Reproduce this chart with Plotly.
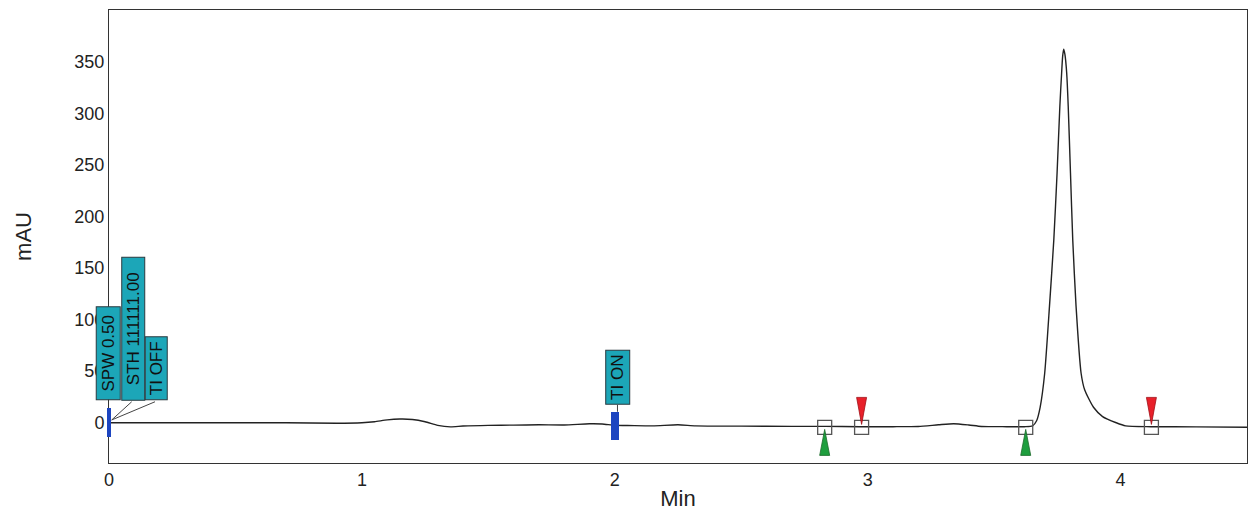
import plotly.graph_objects as go

# ---- Chromatogram signal (min, mAU) ----
time_min = [0.00, 0.10, 0.30, 0.50, 0.70, 0.90, 1.00, 1.05, 1.10, 1.15, 1.20, 1.25, 1.30, 1.35,
            1.40, 1.50, 1.60, 1.70, 1.80, 1.90, 1.95, 2.00, 2.05, 2.15, 2.25, 2.32, 2.50, 2.70,
            2.83, 2.97, 3.10, 3.20, 3.28, 3.34, 3.40, 3.45, 3.55, 3.62, 3.652, 3.668, 3.682,
            3.700, 3.719, 3.736, 3.749, 3.760, 3.767, 3.771, 3.775, 3.780, 3.787, 3.793, 3.802,
            3.811, 3.824, 3.844, 3.858, 3.893, 3.929, 3.983, 4.02, 4.12, 4.30, 4.50]
signal_mau = [0.0, 0.0, 0.0, 0.0, 0.0, -0.5, 0.0, 1.0, 2.8, 3.6, 3.2, 1.0, -2.5, -4.0,
              -3.2, -2.5, -2.3, -2.0, -2.2, -1.0, -1.2, -2.5, -2.6, -3.0, -2.0, -3.0, -3.3, -3.5,
              -3.5, -3.8, -3.8, -3.6, -2.0, -1.0, -2.2, -3.6, -3.8, -3.8, -3.0, 2.0, 15.0,
              48.0, 113.0, 177.0, 242.0, 307.0, 339.0, 355.0, 362.0, 357.0, 339.0, 307.0, 242.0,
              177.0, 113.0, 48.0, 32.0, 15.0, 6.0, 0.0, -3.0, -3.8, -4.0, -4.3]

# ---- Timed events ----
event_times = [0.0, 2.0]
event_levels = [0.5, -3.0]
event_labels = ["SPW 0.50", "STH 111111.00", "TI OFF", "TI ON"]
event_label_times = [0.0, 0.0, 0.0, 2.0]

# ---- Peak integration marks ----
peak_start_times = [2.83, 3.625]
peak_end_times = [2.976, 4.122]
mark_level = -4.5

x_ticks = [0, 1, 2, 3, 4]
y_ticks = [0, 50, 100, 150, 200, 250, 300, 350]

FONT = "Liberation Sans, Arial, sans-serif"
TEAL = "#1ca6b8"
BLUE = "#1d45c0"

fig = go.Figure()

fig.add_trace(go.Scatter(x=time_min, y=signal_mau, mode="lines",
                         line=dict(color="#222222", width=1.4, shape="spline", smoothing=0.6),
                         hoverinfo="skip", showlegend=False))

# integration squares
fig.add_trace(go.Scatter(x=peak_start_times + peak_end_times,
                         y=[mark_level] * (len(peak_start_times) + len(peak_end_times)),
                         mode="markers", cliponaxis=False,
                         marker=dict(symbol="square-open", size=14, color="#555555",
                                     line=dict(width=1.3, color="#555555")),
                         hoverinfo="skip", showlegend=False))

shapes = []
for t in peak_start_times:
    shapes.append(dict(type="path", xref="x", yref="y", xsizemode="pixel", ysizemode="pixel",
                       xanchor=t, yanchor=mark_level, path="M0,-2 L-5,-28 L5,-28 Z",
                       fillcolor="#1e9e3e", line=dict(color="#1a6a2a", width=0.8), layer="above"))
for t in peak_end_times:
    shapes.append(dict(type="path", xref="x", yref="y", xsizemode="pixel", ysizemode="pixel",
                       xanchor=t, yanchor=mark_level, path="M0,3 L-5,30 L5,30 Z",
                       fillcolor="#e8202a", line=dict(color="#a01018", width=0.8), layer="above"))

annotations = []
# event bars (width, height in px)
bar_style = [(4, 29), (8, 28)]
for t, lv, (bw, bh) in zip(event_times, event_levels, bar_style):
    annotations.append(dict(x=t, y=lv, xref="x", yref="y", text=" ", showarrow=False,
                            xanchor="center", yanchor="middle", width=bw, height=bh,
                            bgcolor=BLUE, bordercolor=BLUE, borderwidth=0, borderpad=0,
                            font=dict(size=8)))

# label box style: (xshift, yshift, box length, box thickness)
box_style = [(-0.5, 22, 92, 23), (24, 22, 142, 22), (47.5, 22, 62, 21), (2.7, 18, 53, 23)]
leaders = [((-0.5, 21), (-0.5, 14)), ((22.7, 21), (2.7, 2.8)), ((46, 21), (2.7, 2.8)),
           ((2.7, 18), (2.7, 11))]

for lab, t, (xs, ys, ln, th), ((lx0, ly0), (lx1, ly1)) in zip(
        event_labels, event_label_times, box_style, leaders):
    annotations.append(dict(x=t, y=0, xref="x", yref="y", text=lab, showarrow=False,
                            textangle=-90, xanchor="center", yanchor="bottom",
                            xshift=xs, yshift=ys, width=ln, height=th,
                            align="center", valign="middle",
                            bgcolor=TEAL, bordercolor="#2b3a40", borderwidth=1, borderpad=0,
                            font=dict(family=FONT, size=17, color="#111111")))
    shapes.append(dict(type="line", xref="x", yref="y", xsizemode="pixel", ysizemode="pixel",
                       xanchor=t, yanchor=0, x0=lx0, y0=ly0, x1=lx1, y1=ly1,
                       line=dict(color="#444444", width=1), layer="above"))

fig.update_layout(
    width=1249, height=518,
    margin=dict(l=109, r=2, t=10, b=55, autoexpand=False),
    paper_bgcolor="white", plot_bgcolor="white",
    font=dict(family=FONT, size=18, color="#222222"),
    shapes=shapes, annotations=annotations,
    showlegend=False,
)
fig.update_xaxes(range=[0, 4.5], tickvals=x_ticks, ticktext=[str(v) for v in x_ticks],
                 showgrid=False, zeroline=False, showline=True, linecolor="#333333",
                 linewidth=1, mirror=True, ticks="", automargin=False,
                 title=dict(text="Min", standoff=2), tickfont=dict(size=18))
fig.update_yaxes(range=[-39, 400], tickvals=y_ticks, ticktext=[str(v) for v in y_ticks],
                 showgrid=False, zeroline=False, showline=True, linecolor="#333333",
                 linewidth=1, mirror=True, ticks="", automargin=False,
                 title=dict(text="mAU", standoff=36), tickfont=dict(size=18))

fig.write_html("out.html", config={"displayModeBar": False},
               post_script="document.body.style.margin='0';document.body.style.padding='0';")
